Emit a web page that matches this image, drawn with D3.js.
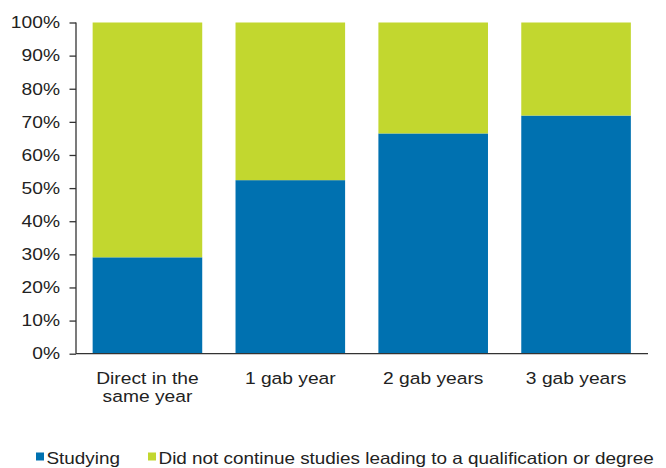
<!DOCTYPE html>
<html>
<head>
<meta charset="utf-8">
<script src="https://cdn.jsdelivr.net/npm/d3@7"></script>
<style>
  html, body { margin: 0; padding: 0; background: #fff; }
  svg { display: block; font-family: "Liberation Sans", Arial, sans-serif; }
</style>
</head>
<body>
<svg id="chart" width="666" height="468"></svg>
<script>
const categories = [["Direct in the", "same year"], ["1 gab year"], ["2 gab years"], ["3 gab years"]];
const studying = [29.1, 52.4, 66.5, 71.9];
const notContinued = [70.9, 47.6, 33.5, 28.1];
const seriesNames = ["Studying", "Did not continue studies leading to a qualification or degree"];
const yTicks = [0, 10, 20, 30, 40, 50, 60, 70, 80, 90, 100];

const colors = ["#0071B0", "#C2D72F"];
const FS = 16.5, SX = 1.165, SXL = 1.145;
const svg = d3.select("#chart");

const x = d3.scaleBand()
  .domain(d3.range(categories.length))
  .range([76, 647.5])
  .paddingInner(0.233)
  .paddingOuter(0.1165);

const y = d3.scaleLinear().domain([0, 100]).range([353.7, 22.5]);

const rows = categories.map((c, i) => ({ i, Studying: studying[i], Other: notContinued[i] }));
const stacked = d3.stack().keys(["Studying", "Other"])(rows);

svg.append("g").selectAll("g")
  .data(stacked).join("g")
  .attr("fill", (d, k) => colors[k])
  .selectAll("rect")
  .data(d => d).join("rect")
  .attr("x", d => x(d.data.i))
  .attr("width", x.bandwidth())
  .attr("y", d => y(d[1]))
  .attr("height", d => y(d[0]) - y(d[1]));

// Y axis
const yAxis = d3.axisLeft(y).tickValues(yTicks).tickFormat(d => d + "%").tickSize(6.5);
const gy = svg.append("g").attr("transform", "translate(76,0)").call(yAxis);
gy.select(".domain").attr("stroke", "#333").attr("stroke-width", 1.3).attr("d", "M0," + y(100) + "V" + y(0));
gy.selectAll(".tick line").attr("stroke", "#333").attr("stroke-width", 1.3);
gy.selectAll(".tick text")
  .attr("x", 0)
  .attr("transform", "translate(-16,0) scale(" + SX + ",1)")
  .attr("fill", "#222").attr("font-size", FS)
  .attr("font-family", "'Liberation Sans', Arial, sans-serif");

// X axis
const xAxis = d3.axisBottom(x).tickSize(0).tickFormat("");
const gx = svg.append("g").attr("transform", "translate(0," + y(0) + ")").call(xAxis);
gx.select(".domain").attr("stroke", "#333").attr("stroke-width", 1.3).attr("d", "M76,0H648");

categories.forEach((lines, i) => {
  const t = svg.append("text")
    .attr("transform", "translate(" + (x(i) + x.bandwidth() / 2) + ",383.5) scale(" + SX + ",1)")
    .attr("text-anchor", "middle")
    .attr("font-size", FS)
    .attr("fill", "#222");
  lines.forEach((l, j) => t.append("tspan").attr("x", 0).attr("dy", j === 0 ? 0 : 18.5).text(l));
});

// Legend
const legendX = [36, 148];
seriesNames.forEach((name, k) => {
  svg.append("rect").attr("x", legendX[k]).attr("y", 452.5).attr("width", 8).attr("height", 8).attr("fill", colors[k]);
  svg.append("text")
    .attr("transform", "translate(" + (legendX[k] + 10.5) + ",464.3) scale(" + SXL + ",1)")
    .attr("font-size", FS).attr("fill", "#222").text(name);
});
</script>
</body>
</html>
